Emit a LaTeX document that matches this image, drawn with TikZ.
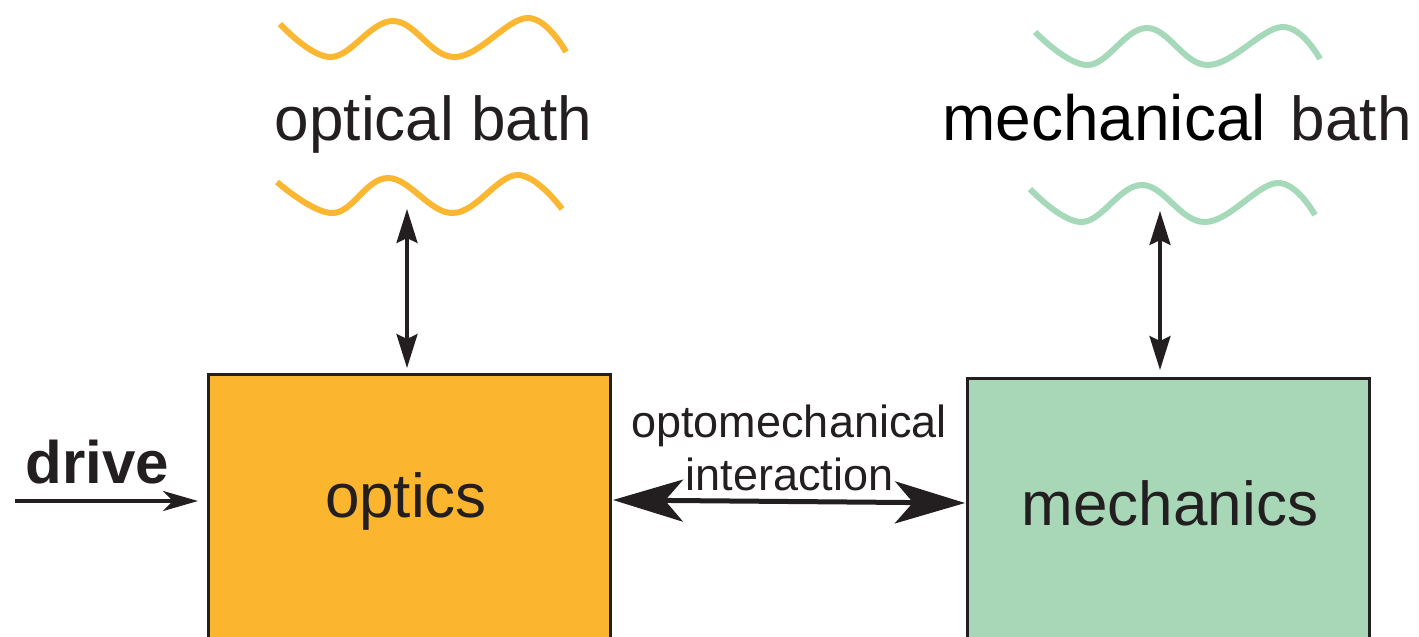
\documentclass[tikz,border=0pt]{standalone}
\usepackage{fontspec}
\setmainfont{Liberation Sans}
\usetikzlibrary{arrows.meta,calc}
\definecolor{txt}{HTML}{231F20}
\definecolor{opt}{HTML}{FBB52F}
\definecolor{mec}{HTML}{A7D7B7}
\definecolor{owv}{HTML}{FBB731}
\definecolor{mwv}{HTML}{A5D9BA}
\begin{document}
\begin{tikzpicture}[x=1pt,y=-1pt,
  box/.style={draw=txt, line width=3pt, minimum width=402pt, minimum height=330pt, anchor=north west, inner sep=0pt},
  biglbl/.style={text=txt, inner sep=0pt, anchor=base, font=\fontsize{62pt}{70pt}\selectfont},
  midlbl/.style={text=txt, inner sep=0pt, anchor=base, font=\fontsize{45pt}{52pt}\selectfont},
  wave/.style={line width=6pt},
  vconn/.style={draw=txt, line width=3.5pt, {Stealth[length=34pt,width=21pt,inset=5pt]}-{Stealth[length=34pt,width=21pt,inset=5pt]}},
  dconn/.style={draw=txt, line width=3.5pt, -{Stealth[length=35pt,width=20pt,inset=10pt]}},
  bigconn/.style={draw=txt, line width=5pt, {Stealth[length=70pt,width=42pt,inset=18pt]}-{Stealth[length=70pt,width=42pt,inset=18pt]}}
]
\useasboundingbox (0,0) rectangle (1419,637);
\clip (0,0) rectangle (1419,637);
% waves
\draw[wave, owv] plot[smooth, tension=0.65] coordinates {(280,24) (331,57) (393,21) (455,57) (527,18) (566,52)};
\draw[wave, owv] plot[smooth, tension=0.65] coordinates {(277,182) (333,213) (388,178) (453,213) (517,175) (562,209)};
\draw[wave, mwv] plot[smooth, tension=0.65] coordinates {(1035,32) (1088,65) (1147,28) (1208,65) (1282,27) (1320,59)};
\draw[wave, mwv] plot[smooth, tension=0.65] coordinates {(1030,189) (1082,222) (1142,185) (1205,222) (1277,183) (1315,215)};
% labels
\node[biglbl] (obath) at (433.5,140) {optical bath};
\node[biglbl, anchor=base west] (mbath) at (942,140) {{\color{black}\fontsize{64pt}{70pt}\selectfont mechanical}\hspace{25pt}bath};
% boxes
\node[box, fill=opt] (optics) at (207,373) {};
\node[box, fill=mec] (mech) at (966,377) {};
\node[biglbl] (optxt) at (406,517) {optics};
\node[biglbl] (metxt) at (1170,525) {mechanics};
\node[midlbl] (omA) at (789,437) {optomechanical};
\node[midlbl] (omB) at (789.5,490) {interaction};
\node[text=txt, inner sep=0pt, anchor=base, font=\fontsize{60pt}{66pt}\selectfont\bfseries] (drive) at (97.5,483) {drive};
% connectors
\coordinate (obt) at (407,209);
\draw[vconn, shorten >=5pt] (obt) -- (obt |- optics.north);
\coordinate (mbt) at (1160,211);
\draw[vconn, shorten >=7pt] (mbt) -- (mbt |- mech.north);
\coordinate (ds) at (15,501);
\draw[dconn, shorten >=9pt] (ds) -- (ds -| optics.west);
\coordinate (bl) at (613,500);
\coordinate (br) at (965,503);
\draw[bigconn] (bl) -- (br);
\end{tikzpicture}
\end{document}
